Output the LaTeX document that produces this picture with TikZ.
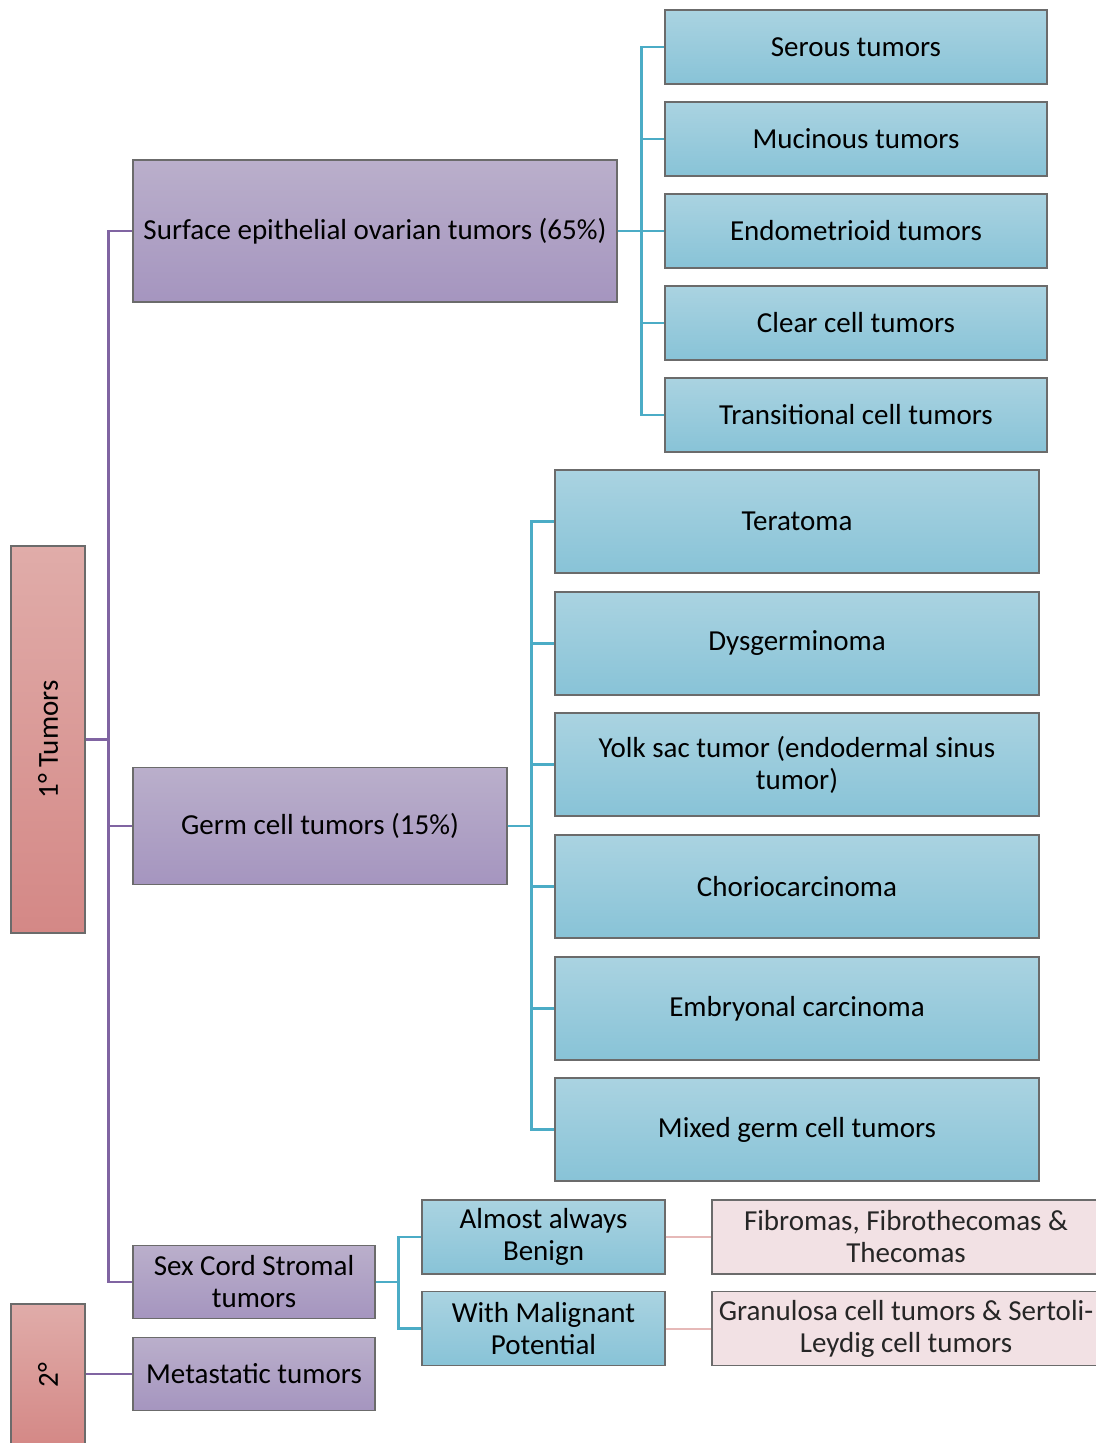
\documentclass[tikz,border=0pt]{standalone}
\usepackage{fontspec}
\setmainfont{Carlito}
\definecolor{rTop}{HTML}{E0ACA9}
\definecolor{rBot}{HTML}{D48886}
\definecolor{pTop}{HTML}{BAAFCB}
\definecolor{pBot}{HTML}{A595BF}
\definecolor{bTop}{HTML}{AAD3E1}
\definecolor{bBot}{HTML}{88C3D7}
\definecolor{pinkFill}{HTML}{F2E1E4}
\definecolor{edge}{HTML}{6B6B6B}
\definecolor{pLine}{HTML}{8064A2}
\definecolor{bLine}{HTML}{4BACC6}
\definecolor{kLine}{HTML}{E6B9B8}
\begin{document}
\begin{tikzpicture}[x=1pt,y=-1pt,
  box/.style={draw=edge, line width=1.1pt, inner sep=2pt, align=center,
    font=\fontsize{29}{32}\selectfont},
  redbox/.style={box, top color=rTop, bottom color=rBot},
  purpbox/.style={box, top color=pTop, bottom color=pBot},
  bluebox/.style={box, top color=bTop, bottom color=bBot},
  pinkbox/.style={box, fill=pinkFill, text=black!85},
  pconn/.style={draw=pLine, line width=2.3pt},
  bconn/.style={draw=bLine, line width=2.3pt},
  kconn/.style={draw=kLine, line width=2pt}]
\useasboundingbox (0,0) rectangle (1095,1443);

% level 0
\node[redbox, minimum width=74, minimum height=387] (t1) at (48,739.5) {\rotatebox{90}{1° Tumors}};
\node[redbox, minimum width=74, minimum height=142] (t2) at (48,1375) {\rotatebox{90}{2°}};

% level 1
\node[purpbox, minimum width=484, minimum height=142] (surf) at (375,231) {Surface epithelial ovarian tumors (65\%)};
\node[purpbox, minimum width=374, minimum height=117] (germ) at (320,826) {Germ cell tumors (15\%)};
\node[purpbox, minimum width=242, minimum height=73] (sex) at (254,1282) {Sex Cord Stromal\\tumors};
\node[purpbox, minimum width=242, minimum height=73] (meta) at (254,1374) {Metastatic tumors};

% surface children
\node[bluebox, minimum width=382, minimum height=74] (s1) at (856,47) {Serous tumors};
\node[bluebox, minimum width=382, minimum height=74] (s2) at (856,139) {Mucinous tumors};
\node[bluebox, minimum width=382, minimum height=74] (s3) at (856,231) {Endometrioid tumors};
\node[bluebox, minimum width=382, minimum height=74] (s4) at (856,323) {Clear cell tumors};
\node[bluebox, minimum width=382, minimum height=74] (s5) at (856,415) {Transitional cell tumors};

% germ children
\node[bluebox, minimum width=484, minimum height=103] (g1) at (797,521.5) {Teratoma};
\node[bluebox, minimum width=484, minimum height=103] (g2) at (797,643.5) {Dysgerminoma};
\node[bluebox, minimum width=484, minimum height=103] (g3) at (797,764.5) {Yolk sac tumor (endodermal sinus\\tumor)};
\node[bluebox, minimum width=484, minimum height=103] (g4) at (797,886.5) {Choriocarcinoma};
\node[bluebox, minimum width=484, minimum height=103] (g5) at (797,1008.5) {Embryonal carcinoma};
\node[bluebox, minimum width=484, minimum height=103] (g6) at (797,1129.5) {Mixed germ cell tumors};

% sex cord children
\node[bluebox, minimum width=243, minimum height=74] (a1) at (543.5,1237) {Almost always\\Benign};
\node[bluebox, minimum width=243, minimum height=74] (a2) at (543.5,1328.5) {With Malignant\\Potential};
\node[pinkbox, minimum width=388, minimum height=74] (f1) at (906,1237) {Fibromas, Fibrothecomas \&\\Thecomas};
\node[pinkbox, minimum width=388, minimum height=74] (f2) at (906,1328.5) {Granulosa cell tumors \& Sertoli-\\Leydig cell tumors};

% purple connectors
\foreach \c in {surf,germ,sex}
  \draw[pconn] (t1.east) -- ([xshift=23]t1.east) |- (\c.west);
\draw[pconn] (t2.east |- meta.west) -- (meta.west);

% blue connectors
\foreach \c in {s1,s2,s3,s4,s5}
  \draw[bconn] (surf.east) -- ([xshift=24]surf.east) |- (\c.west);
\foreach \c in {g1,g2,g3,g4,g5,g6}
  \draw[bconn] (germ.east) -- ([xshift=24]germ.east) |- (\c.west);
\foreach \c in {a1,a2}
  \draw[bconn] (sex.east) -- ([xshift=23]sex.east) |- (\c.west);

% pink connectors
\draw[kconn] (a1.east) -- (f1.west);
\draw[kconn] (a2.east) -- (f2.west);
\end{tikzpicture}
\end{document}
